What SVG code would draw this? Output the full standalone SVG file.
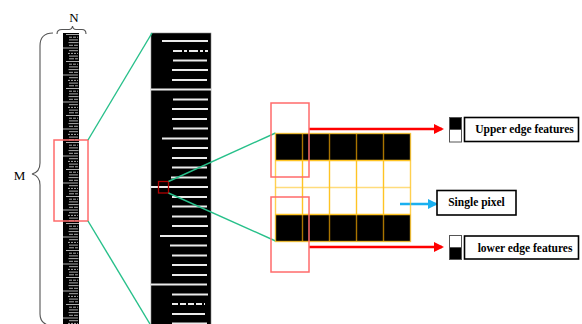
<svg xmlns="http://www.w3.org/2000/svg" width="582" height="324" viewBox="0 0 582 324">
<style>
.brace{fill:none;stroke:#555;stroke-width:1.1}
.lbl{font-family:"Liberation Serif",serif;font-size:13px;fill:#000}
.wl{stroke:#fff;stroke-width:2;opacity:0.92}
.redbox{fill:none;stroke:#ff6b6b;stroke-width:1.5}
.green{stroke:#27c08a;stroke-width:1.4;fill:none}
.gy{stroke:#ffc424;stroke-width:1.4}
.gd{stroke:#a87400;stroke-width:1.4}
.redarrow{stroke:#ff0000;stroke-width:2.5;fill:none}
.box{fill:#fff;stroke:#000;stroke-width:1.6}
.btxt{font-family:"Liberation Serif",serif;font-size:11.5px;font-weight:bold;fill:#000;text-anchor:middle}
</style>
<defs>
<marker id="ahr" markerWidth="10" markerHeight="10" refX="8" refY="5" orient="auto" markerUnits="userSpaceOnUse">
<path d="M0,0 L10,5 L0,10 Z" fill="#ff0000"/>
</marker>
<marker id="ahc" markerWidth="10" markerHeight="10" refX="8" refY="5" orient="auto" markerUnits="userSpaceOnUse">
<path d="M0,0 L10,5 L0,10 Z" fill="#1ab0f0"/>
</marker>
<pattern id="strip" patternUnits="userSpaceOnUse" x="63" y="34" width="16" height="27">
<rect width="16" height="27" fill="#000"/>
<g stroke="#d8d8d8" stroke-width="0.8">
<line x1="3" y1="0.5" x2="16" y2="0.5"/>
<line x1="6" y1="3.2" x2="15" y2="3.2" stroke-dasharray="3,1"/>
<line x1="6" y1="5.9" x2="15" y2="5.9"/>
<line x1="5.5" y1="8.6" x2="15.5" y2="8.6"/>
<line x1="6" y1="11.3" x2="15" y2="11.3" stroke-dasharray="4,1"/>
<line x1="0" y1="14" x2="15" y2="14"/>
<line x1="6" y1="16.7" x2="15" y2="16.7"/>
<line x1="5" y1="19.4" x2="15" y2="19.4" stroke-dasharray="2,1"/>
<line x1="6" y1="22.1" x2="15" y2="22.1"/>
<line x1="6" y1="24.8" x2="15" y2="24.8" stroke-dasharray="5,1"/>
</g>
</pattern>
</defs>
<rect width="582" height="324" fill="#fff"/>

<g id="full-image">
<rect x="63" y="33" width="16" height="292" fill="url(#strip)"/>
<path class="brace" d="M57,34 Q57,29.5 62,29.5 L69,29.5 Q72,29.5 72.5,26 Q73,29.5 76,29.5 L82,29.5 Q86,29.5 86,34"/>
<text class="lbl" x="74" y="21.5" text-anchor="middle">N</text>
<path class="brace" d="M53,33 Q40,33 40,46 L40,163 Q40,172 32,174 Q40,176 40,185 L40,314 Q40,325 53,326"/>
<text class="lbl" x="19.5" y="180" text-anchor="middle">M</text>
<rect class="redbox" x="54" y="140" width="34" height="81"/>
</g>

<g id="zoomed-strip">
<rect x="151" y="33" width="60" height="292" fill="#000" stroke="#888" stroke-width="0.6"/>
<g class="wl">
<line x1="162" y1="41" x2="208" y2="41"/>
<line x1="173" y1="51" x2="208" y2="51" stroke-dasharray="9,2,3,2"/>
<line x1="173" y1="60.5" x2="207" y2="60.5"/>
<line x1="172" y1="70" x2="208" y2="70"/>
<line x1="172" y1="80" x2="207" y2="80"/>
<line x1="151" y1="89.5" x2="211" y2="89.5"/>
<line x1="173" y1="99.5" x2="208" y2="99.5"/>
<line x1="172" y1="109" x2="208" y2="109"/>
<line x1="172" y1="119" x2="207" y2="119"/>
<line x1="173" y1="128.5" x2="208" y2="128.5"/>
<line x1="162" y1="138.5" x2="208" y2="138.5"/>
<line x1="172" y1="148" x2="208" y2="148"/>
<line x1="172" y1="158" x2="207" y2="158"/>
<line x1="172" y1="167.5" x2="207" y2="167.5"/>
<line x1="171" y1="177.5" x2="207" y2="177.5"/>
<line x1="151" y1="187" x2="208" y2="187"/>
<line x1="172" y1="197" x2="207" y2="197"/>
<line x1="172" y1="206.5" x2="207" y2="206.5"/>
<line x1="172" y1="216.5" x2="207" y2="216.5"/>
<line x1="172" y1="226" x2="208" y2="226"/>
<line x1="160" y1="236" x2="207" y2="236"/>
<line x1="170" y1="245.5" x2="207" y2="245.5"/>
<line x1="172" y1="255.5" x2="207" y2="255.5"/>
<line x1="172" y1="265" x2="207" y2="265"/>
<line x1="172" y1="275" x2="207" y2="275"/>
<line x1="151" y1="284.5" x2="207" y2="284.5"/>
<line x1="172" y1="294.5" x2="208" y2="294.5"/>
<line x1="172" y1="304" x2="205" y2="304" stroke-dasharray="6,2,6,2,6,2"/>
<line x1="172" y1="314" x2="205" y2="314"/>
<line x1="172" y1="323.5" x2="207" y2="323.5"/>
</g>
<rect x="158.5" y="181.5" width="10" height="11.5" fill="none" stroke="#b00000" stroke-width="1.3"/>
</g>

<g id="connectors">
<line class="green" x1="88" y1="140" x2="152" y2="33"/>
<line class="green" x1="88" y1="221" x2="150" y2="324"/>
<line class="green" x1="168.5" y1="181.5" x2="275.5" y2="133"/>
<line class="green" x1="168.5" y1="193" x2="275.5" y2="241"/>
<line class="redarrow" x1="309" y1="129" x2="442" y2="129" marker-end="url(#ahr)"/>
<line class="redarrow" x1="309" y1="247" x2="442" y2="247" marker-end="url(#ahr)"/>
<line x1="400" y1="204" x2="436" y2="204" stroke="#1ab0f0" stroke-width="2.5" marker-end="url(#ahc)"/>
</g>

<g id="pixel-grid">
<rect x="275.5" y="133.5" width="135" height="27" fill="#000"/>
<rect x="275.5" y="214.5" width="135" height="27" fill="#000"/>
<line class="gy" x1="275.5" y1="187.5" x2="410.5" y2="187.5" stroke-opacity="0.6"/>
<line class="gy" x1="302.5" y1="160.5" x2="302.5" y2="214.5"/>
<line class="gy" x1="329.5" y1="160.5" x2="329.5" y2="214.5"/>
<line class="gy" x1="356.5" y1="160.5" x2="356.5" y2="214.5"/>
<line class="gy" x1="383.5" y1="160.5" x2="383.5" y2="214.5"/>
<line class="gd" x1="302.5" y1="133.5" x2="302.5" y2="160.5"/>
<line class="gd" x1="329.5" y1="133.5" x2="329.5" y2="160.5"/>
<line class="gd" x1="356.5" y1="133.5" x2="356.5" y2="160.5"/>
<line class="gd" x1="383.5" y1="133.5" x2="383.5" y2="160.5"/>
<line class="gd" x1="302.5" y1="214.5" x2="302.5" y2="241.5"/>
<line class="gd" x1="329.5" y1="214.5" x2="329.5" y2="241.5"/>
<line class="gd" x1="356.5" y1="214.5" x2="356.5" y2="241.5"/>
<line class="gd" x1="383.5" y1="214.5" x2="383.5" y2="241.5"/>
<rect x="275.5" y="133.5" width="135" height="108" fill="none" stroke="#ffc424" stroke-width="1.4" stroke-opacity="0.8"/>
<line class="gy" x1="275.5" y1="160.5" x2="410.5" y2="160.5"/>
<line class="gy" x1="275.5" y1="214.5" x2="410.5" y2="214.5"/>
<rect class="redbox" x="271" y="103" width="38" height="74"/>
<rect class="redbox" x="271" y="197" width="38" height="75"/>
</g>

<g id="upper-edge">
<rect x="449.5" y="117.5" width="12" height="12" fill="#000" stroke="#555" stroke-width="1"/>
<rect x="449.5" y="129.5" width="12" height="12.5" fill="#fff" stroke="#555" stroke-width="1"/>
<rect class="box" x="464.5" y="117.5" width="114" height="24"/>
<text class="btxt" x="524.5" y="133">Upper edge features</text>
</g>

<g id="single-pixel">
<rect class="box" x="437" y="190.5" width="79" height="24.5"/>
<text class="btxt" x="476.5" y="206">Single pixel</text>
</g>

<g id="lower-edge">
<rect x="449.5" y="235.5" width="12" height="12" fill="#fff" stroke="#555" stroke-width="1"/>
<rect x="449.5" y="247.5" width="12" height="12" fill="#000" stroke="#555" stroke-width="1"/>
<rect class="box" x="464.5" y="236" width="114" height="23"/>
<text class="btxt" x="525" y="251.5">lower edge features</text>
</g>
</svg>
